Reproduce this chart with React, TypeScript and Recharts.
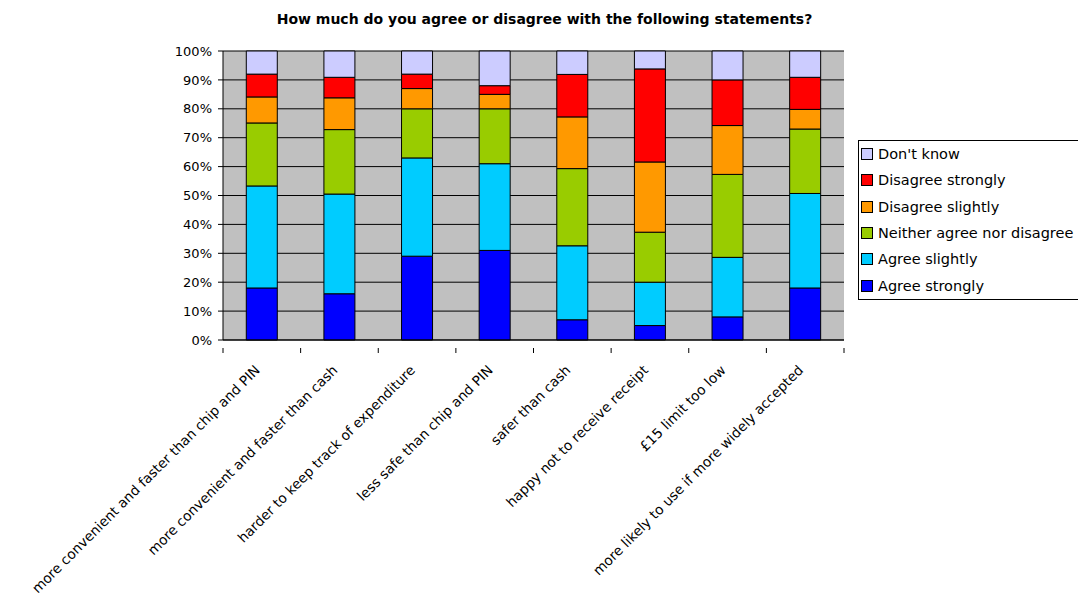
import {
  Bar,
  BarChart,
  CartesianGrid,
  Legend,
  XAxis,
  YAxis,
} from "recharts";

const statements = [
  "more convenient and faster than chip and PIN",
  "more convenient and faster than cash",
  "harder to keep track of expenditure",
  "less safe than chip and PIN",
  "safer than cash",
  "happy not to receive receipt",
  "£15 limit too low",
  "more likely to use if more widely accepted",
];

const agreeStrongly = [18, 16, 29, 31, 7, 5, 8, 18];
const agreeSlightly = [35.3, 34.5, 34, 30, 25.6, 15, 20.6, 32.7];
const neither = [21.8, 22.3, 17, 19, 26.7, 17.3, 28.7, 22.3];
const disagreeSlightly = [9, 11, 7, 5, 17.9, 24.3, 16.9, 6.8];
const disagreeStrongly = [7.9, 7.1, 5, 3, 14.7, 32.2, 15.8, 11.1];
const dontKnow = [8, 9.1, 8, 12, 8.1, 6.2, 10, 9.1];

const yTicks = [0, 10, 20, 30, 40, 50, 60, 70, 80, 90, 100];

const series = [
  { key: "as", name: "Agree strongly", values: agreeStrongly, color: "#0000FF" },
  { key: "asl", name: "Agree slightly", values: agreeSlightly, color: "#00CCFF" },
  { key: "n", name: "Neither agree nor disagree", values: neither, color: "#99CC00" },
  { key: "dsl", name: "Disagree slightly", values: disagreeSlightly, color: "#FF9900" },
  { key: "ds", name: "Disagree strongly", values: disagreeStrongly, color: "#FF0000" },
  { key: "dk", name: "Don't know", values: dontKnow, color: "#CCCCFF" },
];

const data = statements.map((s, i) => {
  const row: Record<string, string | number> = { name: s };
  series.forEach((ser) => {
    row[ser.key] = ser.values[i];
  });
  return row;
});

const FONT = "'DejaVu Sans', sans-serif";
const PLOT_LEFT = 223;
const PLOT_RIGHT = 844;
const PLOT_TOP = 51;
const PLOT_BOTTOM = 340;
const BAND = (PLOT_RIGHT - PLOT_LEFT) / statements.length;

function CategoryTick(props: any) {
  const { x, y, payload, index } = props;
  const half = BAND / 2;
  const ax = x - 1;
  const ay = y + 23;
  return (
    <g>
      <line x1={x - half} y1={y} x2={x - half} y2={y + 5} stroke="#000" />
      {index === statements.length - 1 && (
        <line x1={x + half} y1={y} x2={x + half} y2={y + 5} stroke="#000" />
      )}
      <text
        x={ax}
        y={ay}
        textAnchor="end"
        fontSize={13.7}
        fontFamily={FONT}
        fill="#000"
        transform={`rotate(-45 ${ax} ${ay})`}
      >
        {payload.value}
      </text>
    </g>
  );
}

function LegendBox() {
  const items = [...series].reverse();
  return (
    <div
      style={{
        border: "1px solid #000",
        background: "#fff",
        width: 240,
        padding: "0 0 0 2px",
        fontFamily: FONT,
        fontSize: 14.5,
        color: "#000",
      }}
    >
      {items.map((it) => (
        <div
          key={it.key}
          style={{ display: "flex", alignItems: "center", height: 26.3 }}
        >
          <span
            style={{
              display: "inline-block",
              width: 10,
              height: 10,
              background: it.color,
              border: "1px solid #000",
              marginRight: 5,
            }}
          />
          <span style={{ whiteSpace: "nowrap" }}>{it.name}</span>
        </div>
      ))}
    </div>
  );
}

export default function App() {
  return (
    <div
      style={{
        position: "absolute",
        left: 0,
        top: 0,
        width: 1078,
        height: 602,
        overflow: "hidden",
        background: "#fff",
      }}
    >
      <div
        style={{
          position: "absolute",
          top: 11,
          left: 0,
          width: 1089,
          textAlign: "center",
          fontFamily: FONT,
          fontWeight: "bold",
          fontSize: 14,
        }}
      >
        How much do you agree or disagree with the following statements?
      </div>
      <BarChart
        width={1078}
        height={602}
        data={data}
        margin={{ top: PLOT_TOP, right: 1078 - PLOT_RIGHT, bottom: 0, left: 0 }}
        barCategoryGap="30%"
      >
        <CartesianGrid
          vertical={false}
          stroke="#000"
          fill="#C0C0C0"
          fillOpacity={1}
        />
        <XAxis
          dataKey="name"
          interval={0}
          height={602 - PLOT_BOTTOM}
          tickLine={false}
          axisLine={{ stroke: "#000" }}
          tick={<CategoryTick />}
        />
        <YAxis
          width={PLOT_LEFT}
          domain={[0, 100]}
          ticks={yTicks}
          tickFormatter={(v) => `${v}%`}
          tickSize={5}
          tickMargin={6}
          axisLine={{ stroke: "#000" }}
          tickLine={{ stroke: "#000" }}
          tick={{ fill: "#000", fontSize: 13, fontFamily: FONT }}
        />
        <YAxis
          yAxisId="edge"
          orientation="right"
          width={0}
          tick={false}
          tickLine={false}
          axisLine={{ stroke: "#808080" }}
        />
        {series.map((ser) => (
          <Bar
            key={ser.key}
            dataKey={ser.key}
            name={ser.name}
            stackId="a"
            fill={ser.color}
            stroke="#000"
            strokeWidth={1}
            isAnimationActive={false}
          />
        ))}
        <Legend
          layout="vertical"
          verticalAlign="middle"
          align="center"
          wrapperStyle={{ left: 858, top: 140, width: 250 }}
          content={<LegendBox />}
        />
      </BarChart>
    </div>
  );
}
